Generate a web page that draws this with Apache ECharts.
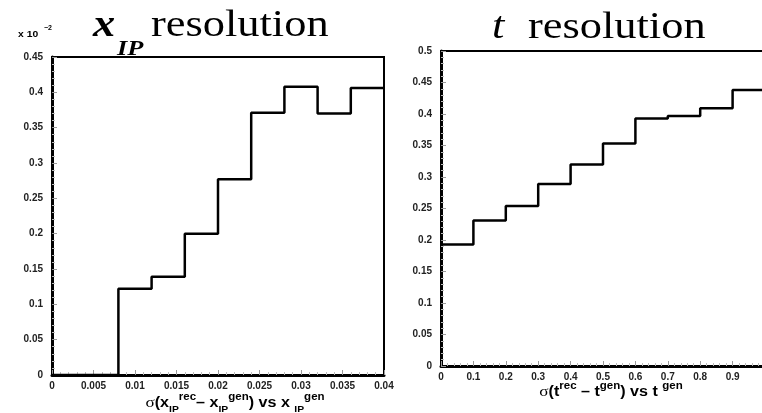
<!DOCTYPE html>
<html>
<head>
<meta charset="utf-8">
<script src="https://cdn.jsdelivr.net/npm/echarts@6/dist/echarts.min.js"></script>
<style>
html,body{margin:0;padding:0;background:#fff;}
#c{width:762px;height:413px;}
</style>
</head>
<body>
<div id="c"></div>
<script>
// ---- data ----
const leftEdges  = [0, 0.004, 0.008, 0.012, 0.016, 0.020, 0.024, 0.028, 0.032, 0.036, 0.040];
const leftValues = [0, 0, 0.122, 0.139, 0.200, 0.277, 0.371, 0.408, 0.370, 0.406];
const rightEdges  = [0, 0.1, 0.2, 0.3, 0.4, 0.5, 0.6, 0.7, 0.8, 0.9, 1.0];
const rightValues = [0.193, 0.231, 0.254, 0.289, 0.320, 0.353, 0.393, 0.397, 0.409, 0.438];

const leftXTicks  = ['0','0.005','0.01','0.015','0.02','0.025','0.03','0.035','0.04'];
const leftYTicks  = ['0','0.05','0.1','0.15','0.2','0.25','0.3','0.35','0.4','0.45'];
const rightXTicks = ['0','0.1','0.2','0.3','0.4','0.5','0.6','0.7','0.8','0.9'];
const rightYTicks = ['0','0.05','0.1','0.15','0.2','0.25','0.3','0.35','0.4','0.45','0.5'];

function stepPoints(edges, vals) {
  const pts = [];
  for (let i = 0; i < vals.length; i++) {
    pts.push([edges[i], vals[i]]);
    pts.push([edges[i + 1], vals[i]]);
  }
  return pts;
}
function lab(arr) {
  return function (v) {
    for (const s of arr) if (Math.abs(parseFloat(s) - v) < 1e-9) return s;
    return '';
  };
}

const labelStyle = {fontFamily: 'Liberation Sans', fontWeight: 'bold', fontSize: 10, color: '#222'};
function xAxisCfg(grid, max, interval, ticks) {
  return {
    gridIndex: grid, type: 'value', min: 0, max: max, interval: interval,
    axisLine: {onZero: false, lineStyle: {color: '#000', width: 3}},
    axisTick: {inside: true, length: 5, lineStyle: {color: '#999', width: 1}},
    minorTick: {show: true, splitNumber: 5, length: 3, lineStyle: {color: '#bbb', width: 1}},
    splitLine: {show: false},
    axisLabel: Object.assign({margin: 6, formatter: lab(ticks)}, labelStyle)
  };
}
function yAxisCfg(grid, max, interval, ticks) {
  return {
    gridIndex: grid, type: 'value', min: 0, max: max, interval: interval,
    axisLine: {onZero: false, lineStyle: {color: '#000', width: 3}},
    axisTick: {inside: true, length: 5, lineStyle: {color: '#999', width: 1}},
    minorTick: {show: true, splitNumber: 5, length: 3, lineStyle: {color: '#bbb', width: 1}},
    splitLine: {show: false},
    axisLabel: Object.assign({margin: 9, formatter: lab(ticks)}, labelStyle)
  };
}

const chart = echarts.init(document.getElementById('c'), null, {renderer: 'canvas'});

const subRich = {
  m: {fontFamily: 'Liberation Sans', fontWeight: 'bold', fontSize: 14, lineHeight: 22, fill: '#000'},
  s: {fontFamily: 'Liberation Serif', fontSize: 15, lineHeight: 22, fill: '#000'},
  b: {fontFamily: 'Liberation Sans', fontWeight: 'bold', fontSize: 9, lineHeight: 12, verticalAlign: 'bottom', fill: '#000'},
  p: {fontFamily: 'Liberation Sans', fontWeight: 'bold', fontSize: 10, lineHeight: 12, verticalAlign: 'top', fill: '#000'}
};

chart.setOption({
  animation: false,
  backgroundColor: '#fff',
  grid: [
    {left: 52, top: 57, width: 332, height: 318, outerBoundsMode: 'none', containLabel: false, show: true, borderColor: '#000', borderWidth: 2, backgroundColor: 'transparent'},
    {left: 441, top: 51, width: 324, height: 315, outerBoundsMode: 'none', containLabel: false, show: true, borderColor: '#000', borderWidth: 2, backgroundColor: 'transparent'}
  ],
  xAxis: [
    xAxisCfg(0, 0.04, 0.005, leftXTicks),
    xAxisCfg(1, 1.0, 0.1, rightXTicks)
  ],
  yAxis: [
    yAxisCfg(0, 0.45, 0.05, leftYTicks),
    yAxisCfg(1, 0.5, 0.05, rightYTicks)
  ],
  series: [
    {type: 'line', xAxisIndex: 0, yAxisIndex: 0, data: stepPoints(leftEdges, leftValues),
     showSymbol: false, symbol: 'none', lineStyle: {color: '#000', width: 2.5}, z: 5},
    {type: 'line', xAxisIndex: 1, yAxisIndex: 1, data: stepPoints(rightEdges, rightValues),
     showSymbol: false, symbol: 'none', lineStyle: {color: '#000', width: 2.5}, z: 5}
  ],
  graphic: [
    // left title
    {type: 'text', x: 93, y: 26, scaleX: 1.2, style: {text: 'x', font: 'italic bold 37px "Liberation Serif"', fill: '#000', align: 'left', verticalAlign: 'middle'}},
    {type: 'text', x: 117, y: 49, scaleX: 1.2, style: {text: 'IP', font: 'italic bold 22px "Liberation Serif"', fill: '#000', align: 'left', verticalAlign: 'middle'}},
    {type: 'text', x: 151, y: 26, scaleX: 1.2, style: {text: 'resolution', font: '37px "Liberation Serif"', fill: '#000', align: 'left', verticalAlign: 'middle'}},
    // right title
    {type: 'text', x: 492, y: 28, scaleX: 1.2, style: {text: 't', font: 'italic 37px "Liberation Serif"', fill: '#000', align: 'left', verticalAlign: 'middle'}},
    {type: 'text', x: 528, y: 28, scaleX: 1.2, style: {text: 'resolution', font: '37px "Liberation Serif"', fill: '#000', align: 'left', verticalAlign: 'middle'}},
    // exponent label
    {type: 'text', x: 18, y: 35, scaleX: 1.15, style: {text: 'x 10', font: 'bold 9px "Liberation Sans"', fill: '#000', align: 'left', verticalAlign: 'middle'}},
    {type: 'text', x: 44, y: 28, style: {text: '\u22122', font: 'bold 7px "Liberation Sans"', fill: '#000', align: 'left', verticalAlign: 'middle'}},
    // axis titles
    {type: 'text', x: 235, y: 403,
     style: {text: '{s|\u03c3}{m|(x}{b|IP}{p|rec}{m|\u2013 x}{b|IP}{p|gen}{m|) vs x }{b|IP}{p|gen}', rich: subRich, align: 'center', verticalAlign: 'middle'},
     scaleX: 1.15},
    {type: 'text', x: 611, y: 392,
     style: {text: '{s|\u03c3}{m|(t}{p|rec}{m| \u2013 t}{p|gen}{m|) vs t }{p|gen}', rich: subRich, align: 'center', verticalAlign: 'middle'},
     scaleX: 1.15}
  ]
});
</script>
</body>
</html>
